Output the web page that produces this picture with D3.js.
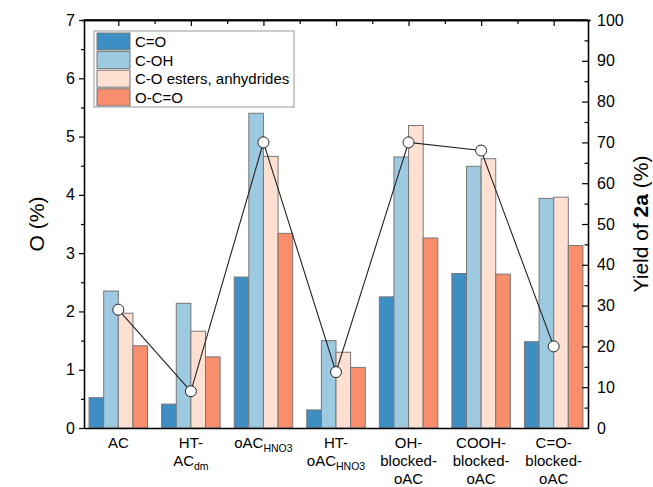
<!DOCTYPE html>
<html>
<head>
<meta charset="utf-8">
<script src="https://cdn.jsdelivr.net/npm/d3@7"></script>
<style>
  body { margin: 0; background: #fff; }
  text { font-family: Arial, "Liberation Sans", sans-serif; fill: #000; }
</style>
</head>
<body>
<div id="chart"></div>
<script>
// data
var categories = ["AC", "HT-ACdm", "oACHNO3", "HT-oACHNO3", "OH-blocked-oAC", "COOH-blocked-oAC", "C=O-blocked-oAC"];
// each label line: [main text, subscript]
var tickLabels = [
  [["AC", ""]],
  [["HT-", ""], ["AC", "dm"]],
  [["oAC", "HNO3"]],
  [["HT-", ""], ["oAC", "HNO3"]],
  [["OH-", ""], ["blocked-", ""], ["oAC", ""]],
  [["COOH-", ""], ["blocked-", ""], ["oAC", ""]],
  [["C=O-", ""], ["blocked-", ""], ["oAC", ""]]
];
var seriesNames = ["C=O", "C-OH", "C-O esters, anhydrides", "O-C=O"];
var cO      = [0.52, 0.41, 2.59, 0.31, 2.25, 2.65, 1.48];
var cOH     = [2.35, 2.14, 5.40, 1.50, 4.65, 4.49, 3.94];
var cOester = [1.97, 1.66, 4.66, 1.30, 5.19, 4.62, 3.96];
var oCO     = [1.41, 1.22, 3.34, 1.04, 3.26, 2.64, 3.13];
var yield2a = [29, 9, 70, 13.7, 70, 68, 20];

var colors = ["#3e8ec4", "#9ecae1", "#fde0d2", "#f98e6c"];

var width = 653, height = 487;
var margin = { top: 20, right: 65, bottom: 59, left: 84 };
var w = width - margin.left - margin.right,
  h = height - margin.top - margin.bottom;

var series = [cO, cOH, cOester, oCO];
var rows = categories.map(function(c, i) {
  return { cat: c, values: series.map(function(s, j) { return { key: seriesNames[j], value: s[i] }; }) };
});

var svg = d3.select("#chart").append("svg")
  .attr("width", width).attr("height", height);
var g = svg.append("g")
  .attr("transform", "translate(" + margin.left + "," + margin.top + ")");

var x0 = d3.scaleBand().domain(categories).range([0, w]).paddingInner(0.194).paddingOuter(0.07);
var x1 = d3.scaleBand().domain(seriesNames).range([0, x0.bandwidth()]);
var y = d3.scaleLinear().domain([0, 7]).range([h, 0]);
var y2 = d3.scaleLinear().domain([0, 100]).range([h, 0]);

// bars
g.append("g").selectAll("g")
  .data(rows).enter().append("g")
  .attr("transform", function(d) { return "translate(" + x0(d.cat) + ",0)"; })
  .selectAll("rect")
  .data(function(d) { return d.values; }).enter().append("rect")
  .attr("x", function(d) { return x1(d.key); })
  .attr("y", function(d) { return y(d.value); })
  .attr("width", x1.bandwidth())
  .attr("height", function(d) { return h - y(d.value); })
  .style("fill", function(d, i) { return colors[i]; })
  .style("stroke", "#777")
  .style("stroke-width", 1);

// yield line
var cx = function(d, i) { return x0(categories[i]) + x0.bandwidth() / 2; };
var line = d3.line()
  .x(function(d, i) { return cx(d, i); })
  .y(function(d) { return y2(d); });
g.append("path")
  .datum(yield2a)
  .attr("d", line)
  .style("fill", "none")
  .style("stroke", "#222")
  .style("stroke-width", 1.1);
g.selectAll("circle.pt")
  .data(yield2a).enter().append("circle")
  .attr("class", "pt")
  .attr("cx", cx)
  .attr("cy", function(d) { return y2(d); })
  .attr("r", 5.5)
  .style("fill", "#fff")
  .style("stroke", "#222")
  .style("stroke-width", 1);

// axes
function styleAxis(sel) {
  sel.selectAll("path.domain").style("stroke", "#000").style("stroke-width", 1.3);
  sel.selectAll(".tick line").style("stroke", "#000").style("stroke-width", 1.2);
  sel.selectAll(".tick text").style("font-size", "16px").style("font-family", "Arial, 'Liberation Sans', sans-serif");
}

var yAxis = g.append("g")
  .call(d3.axisLeft(y).ticks(7).tickSize(5).tickPadding(4).tickSizeOuter(0));
g.append("g")
  .call(d3.axisLeft(y).tickValues(d3.range(0.5, 7, 1)).tickSize(3).tickFormat("").tickSizeOuter(0))
  .call(styleAxis);
styleAxis(yAxis);

var y2Axis = g.append("g")
  .attr("transform", "translate(" + w + ",0)")
  .call(d3.axisRight(y2).ticks(10).tickSize(-6).tickPadding(9).tickSizeOuter(0));
g.append("g")
  .attr("transform", "translate(" + w + ",0)")
  .call(d3.axisRight(y2).tickValues(d3.range(5, 100, 10)).tickSize(-3.5).tickFormat("").tickSizeOuter(0))
  .call(styleAxis);
styleAxis(y2Axis);

// top frame with inward ticks
var xc = d3.scaleLinear().domain([0, categories.length]).range([x0(categories[0]) + x0.bandwidth() / 2 - x0.step() / 2, x0(categories[0]) + x0.bandwidth() / 2 + categories.length * x0.step() - x0.step() / 2]);
g.append("g")
  .call(d3.axisTop(xc).tickValues(d3.range(0.5, 7, 1)).tickSize(-6).tickFormat("").tickSizeOuter(0))
  .call(styleAxis);
g.append("g")
  .call(d3.axisTop(xc).tickValues(d3.range(1, 7, 1)).tickSize(-4).tickFormat("").tickSizeOuter(0))
  .call(styleAxis);
g.append("line")
  .attr("x1", 0).attr("x2", w).attr("y1", 0).attr("y2", 0)
  .style("stroke", "#000").style("stroke-width", 1.3);

// bottom axis
var xAxis = g.append("g")
  .attr("transform", "translate(0," + h + ")")
  .call(d3.axisBottom(x0).tickSize(0).tickFormat("").tickSizeOuter(0));
styleAxis(xAxis);

var lab = g.append("g").selectAll("text")
  .data(tickLabels).enter().append("text")
  .attr("text-anchor", "middle")
  .style("font-size", "15px")
  .attr("transform", function(d, i) {
    return "translate(" + (x0(categories[i]) + x0.bandwidth() / 2) + "," + (h + 20) + ")";
  });
lab.each(function(lines) {
  var t = d3.select(this);
  lines.forEach(function(l, k) {
    t.append("tspan")
      .attr("x", 0)
      .attr("y", k * 18)
      .text(l[0]);
    if (l[1]) {
      t.append("tspan")
        .attr("dy", 4)
        .style("font-size", "10.5px")
        .text(l[1]);
    }
  });
});

// axis titles
svg.append("text")
  .attr("transform", "translate(44," + (margin.top + h / 2) + ") rotate(-90)")
  .attr("text-anchor", "middle")
  .style("font-size", "21px")
  .text("O (%)");

var t2 = svg.append("text")
  .attr("transform", "translate(648," + (margin.top + h / 2) + ") rotate(-90)")
  .attr("text-anchor", "middle")
  .style("font-size", "21px");
t2.append("tspan").text("Yield of ");
t2.append("tspan").style("font-weight", "bold").text("2a");
t2.append("tspan").text(" (%)");

// legend
var leg = g.append("g").attr("transform", "translate(10,11)");
leg.append("rect")
  .attr("width", 200).attr("height", 76)
  .style("fill", "#fff").style("stroke", "#999").style("stroke-width", 1);
var items = leg.selectAll("g.item")
  .data(seriesNames).enter().append("g")
  .attr("class", "item")
  .attr("transform", function(d, i) { return "translate(3," + (2 + i * 18.6) + ")"; });
items.append("rect")
  .attr("width", 33).attr("height", 17)
  .style("fill", function(d, i) { return colors[i]; })
  .style("stroke", "#777");
items.append("text")
  .attr("x", 38).attr("y", 14)
  .style("font-size", "15px")
  .text(function(d) { return d; });
</script>
</body>
</html>
